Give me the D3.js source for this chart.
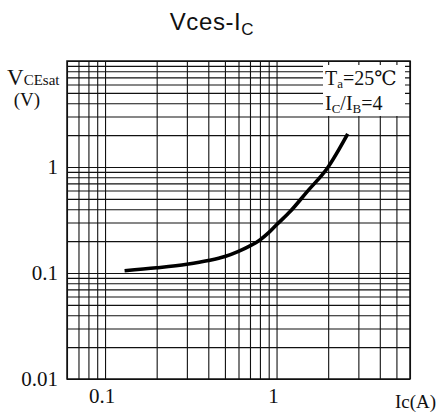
<!DOCTYPE html>
<html>
<head>
<meta charset="utf-8">
<script src="https://cdn.jsdelivr.net/npm/d3@7"></script>
<style>
  body { margin: 0; background: #fff; }
  svg { display: block; }
  .serif { font-family: "Liberation Serif", "DejaVu Serif", serif; fill: #111; }
</style>
</head>
<body>
<svg id="chart" width="441" height="414"></svg>
<script>
// Collector current (A) and saturation voltage (V)
const currentA = [0.13, 0.2, 0.3, 0.4, 0.5, 0.6, 0.7, 0.8, 0.9, 1.0, 1.2, 1.5, 2.0, 2.6];
const vcesatV = [0.105, 0.112, 0.121, 0.131, 0.143, 0.16, 0.18, 0.205, 0.24, 0.285, 0.38, 0.58, 1.0, 2.05];

// Labelled ticks
const xLabels = [0.1, 1];
const yLabels = [0.01, 0.1, 1];

const margin = { top: 61, left: 67 };
const width = 343;
const height = 318;

const svg = d3.select("#chart");

// Title
const title = svg.append("text")
  .attr("x", 212)
  .attr("y", 30)
  .attr("text-anchor", "middle")
  .attr("font-family", "Liberation Sans, Arial, sans-serif")
  .attr("font-size", 24)
  .attr("letter-spacing", 0.6)
  .attr("fill", "#111");
title.append("tspan").text("Vces-I");
title.append("tspan").attr("font-size", 17).attr("dy", 5).text("C");

const g = svg.append("g").attr("transform", `translate(${margin.left},${margin.top})`);

const x = d3.scaleLog().domain([0.06, 6]).range([0, width]);
const y = d3.scaleLog().domain([0.01, 10]).range([height, 0]);

// Grid lines through the log axes
g.append("g")
  .attr("transform", `translate(0,${height})`)
  .call(d3.axisBottom(x).tickValues(x.ticks()).tickSize(-height).tickFormat(""))
  .call((a) => a.select(".domain").remove())
  .call((a) => a.selectAll("line").attr("stroke", "#111").attr("stroke-width", 1.1));

g.append("g")
  .call(d3.axisLeft(y).tickValues(y.ticks()).tickSize(-width).tickFormat(""))
  .call((a) => a.select(".domain").remove())
  .call((a) => a.selectAll("line").attr("stroke", "#111").attr("stroke-width", 1.1));

// Frame
g.append("rect")
  .attr("width", width)
  .attr("height", height)
  .attr("fill", "none")
  .attr("stroke", "#111")
  .attr("stroke-width", 1.5);

// Tick labels
g.selectAll(".xlab")
  .data(xLabels)
  .join("text")
  .attr("class", "serif")
  .attr("x", (d) => x(d) - 3)
  .attr("y", height + 24)
  .attr("text-anchor", "middle")
  .attr("font-size", 21)
  .text((d) => d);

g.selectAll(".ylab")
  .data(yLabels)
  .join("text")
  .attr("class", "serif")
  .attr("x", -9)
  .attr("y", (d) => y(d) + 7)
  .attr("text-anchor", "end")
  .attr("font-size", 21)
  .text((d) => d);

// Axis titles
const yt = svg.append("text").attr("class", "serif").attr("x", 7).attr("y", 85);
yt.append("tspan").attr("font-size", 23).text("V");
yt.append("tspan").attr("font-size", 15).text("CEsat");
svg.append("text").attr("class", "serif")
  .attr("x", 27).attr("y", 106).attr("text-anchor", "middle")
  .attr("font-size", 19).text("(V)");

svg.append("text").attr("class", "serif")
  .attr("x", 395).attr("y", 408)
  .attr("font-size", 19).text("Ic(A)");

// Legend box
g.append("rect")
  .attr("x", 323 - margin.left)
  .attr("y", 65 - margin.top)
  .attr("width", 82)
  .attr("height", 51)
  .attr("fill", "#fff");

const t1 = svg.append("text").attr("class", "serif").attr("x", 325).attr("y", 85).attr("font-size", 20);
t1.append("tspan").text("T");
t1.append("tspan").attr("font-size", 13).attr("dy", 3).text("a");
t1.append("tspan").attr("dy", -3).text("=25℃");

const t2 = svg.append("text").attr("class", "serif").attr("x", 325).attr("y", 110).attr("font-size", 20);
t2.append("tspan").text("I");
t2.append("tspan").attr("font-size", 13).attr("dy", 3).text("C");
t2.append("tspan").attr("dy", -3).text("/I");
t2.append("tspan").attr("font-size", 13).attr("dy", 3).text("B");
t2.append("tspan").attr("dy", -3).text("=4");

// Curve
const pts = currentA.map((c, i) => [c, vcesatV[i]]);
const line = d3.line()
  .x((d) => x(d[0]))
  .y((d) => y(d[1]))
  .curve(d3.curveMonotoneX);

g.append("path")
  .datum(pts)
  .attr("d", line)
  .attr("fill", "none")
  .attr("stroke", "#000")
  .attr("stroke-width", 3.6)
  .attr("stroke-linecap", "butt");
</script>
</body>
</html>
